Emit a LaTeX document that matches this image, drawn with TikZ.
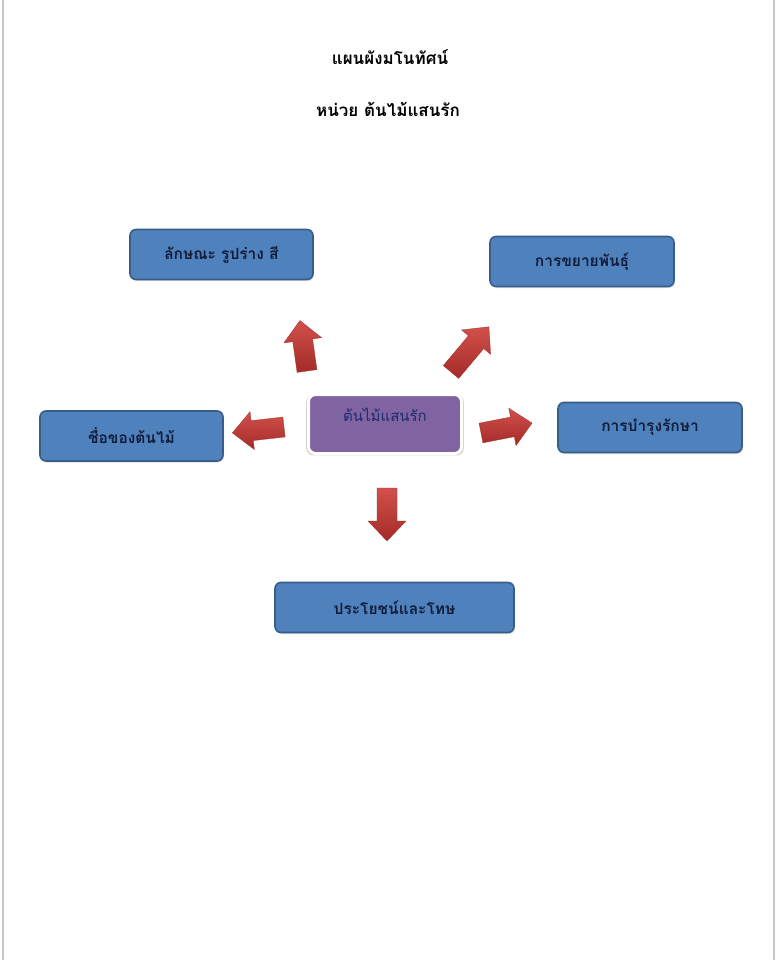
\documentclass[tikz,border=0pt]{standalone}
\usepackage{fontspec}
\newfontfamily\thaifont[Script=Thai]{Loma}
\usetikzlibrary{calc,shadows}
\definecolor{boxblue}{HTML}{4F81BD}
\definecolor{boxedge}{HTML}{385D8A}
\definecolor{cpurple}{HTML}{8064A2}
\definecolor{arredd}{HTML}{A32B28}
\definecolor{arredl}{HTML}{D2504B}
\definecolor{navytext}{HTML}{101C3A}
\definecolor{ctext}{HTML}{1F2A6B}
\definecolor{pageedge}{HTML}{C8C8C8}
\tikzset{
  topicbox/.style={draw=boxedge, line width=1.6pt, fill=boxblue, rounded corners=6pt,
    minimum height=50pt, font=\thaifont\bfseries\fontsize{15.5}{18}\selectfont, text=navytext,
    drop shadow={shadow xshift=1pt, shadow yshift=-1.5pt, opacity=0.25}},
  centerbox/.style={draw=white, line width=3pt, fill=cpurple, rounded corners=7pt,
    minimum width=153pt, minimum height=59pt,
    drop shadow={shadow xshift=0pt, shadow yshift=-1pt, opacity=0.35, shadow scale=1.03}},
  titletext/.style={font=\thaifont\bfseries\fontsize{17}{20}\selectfont, text=black},
  arrowfill/.style={top color=arredl, bottom color=arredd, draw=arredd, line width=0.3pt}
}
\newcommand\blockarr[4]{%
  \begin{scope}[shift={(#1,#2)},rotate=#3]
    \path[arrowfill] (0,-10) -- ({#4-20},-10) -- ({#4-20},-19) -- (#4,0) -- ({#4-20},19) -- ({#4-20},10) -- (0,10) -- cycle;
  \end{scope}}
\begin{document}
\begin{tikzpicture}[x=1pt,y=1pt]
\useasboundingbox (0,0) rectangle (777,-960);
\fill[white] (0,0) rectangle (777,-960);
\draw[pageedge, line width=2pt] (2.5,0) -- (2.5,-960);
\draw[pageedge, line width=2pt] (773.5,0) -- (773.5,-960);

\node[titletext] (t1) at (390,-57) {แผนผังมโนทัศน์};
\node[titletext] (t2) at (388,-109) {หน่วย ต้นไม้แสนรัก};

\node[topicbox, minimum width=183pt] (shape) at (221.5,-254.5) {ลักษณะ รูปร่าง สี};
\node[topicbox, minimum width=184pt] (prop) at (582,-261.5) {การขยายพันธุ์};
\node[topicbox, minimum width=183pt] (name) at (131.5,-436) {ชื่อของต้นไม้};
\node[topicbox, minimum width=184pt] (care) at (650,-427.5) {การบำรุงรักษา};
\node[topicbox, minimum width=239pt] (use) at (394.5,-607.5) {ประโยชน์และโทษ};

\node[centerbox] (center) at (385,-424) {};
\node[font=\thaifont\fontsize{15}{18}\selectfont, text=ctext] (ctitle) at ([yshift=9pt]center.center) {ต้นไม้แสนรัก};

\blockarr{307}{-371}{98}{51}
\blockarr{451}{-372}{50}{59}
\blockarr{284}{-427}{186.5}{52}
\blockarr{481}{-433}{11}{52}
\blockarr{387}{-488}{270}{53}
\end{tikzpicture}
\end{document}
